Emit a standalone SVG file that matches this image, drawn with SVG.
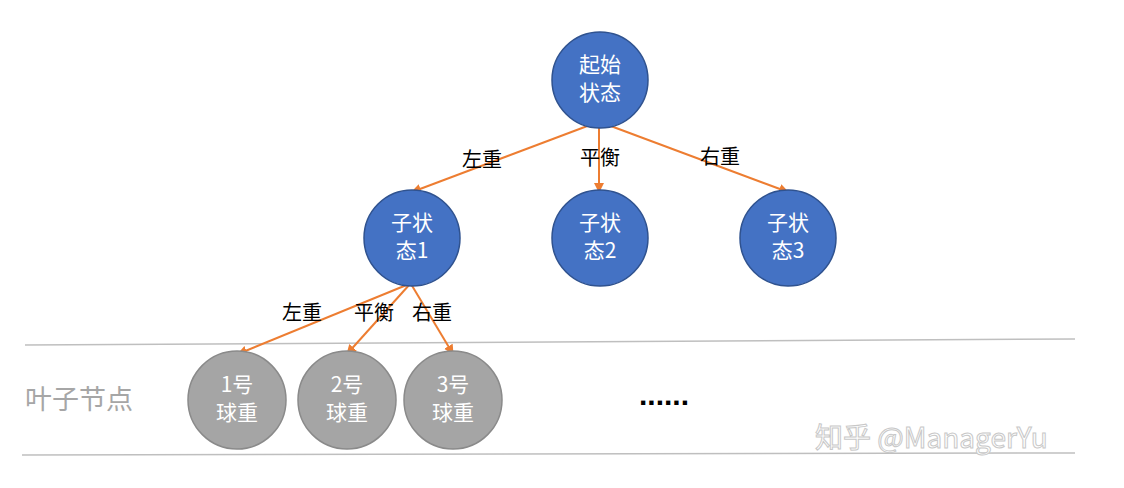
<svg xmlns="http://www.w3.org/2000/svg" width="1124" height="488" viewBox="0 0 1124 488">
<style>
.b{fill:#4472C4;stroke:#2F528F;stroke-width:1.5}
.g{fill:#A5A5A5;stroke:#8A8A8A;stroke-width:1.5}
.t{font-family:"Noto Sans CJK SC","Liberation Sans",sans-serif;font-size:21px;fill:#fff;text-anchor:middle}
.l{font-family:"Noto Sans CJK SC",sans-serif;font-size:20px;fill:#000;text-anchor:middle}
.c{stroke:#ED7D31;stroke-width:2;fill:none;marker-end:url(#a)}
</style>
<defs><marker id="a" viewBox="0 0 10 10" refX="9" refY="5" markerWidth="5" markerHeight="5" orient="auto"><path d="M0,0L10,5L0,10z" fill="#ED7D31"/></marker></defs>
<rect width="1124" height="488" fill="#fff"/>
<line x1="25" y1="345" x2="1075" y2="339" stroke="#BFBFBF" stroke-width="1.5"/>
<line x1="22" y1="455" x2="1075" y2="453" stroke="#BFBFBF" stroke-width="1.5"/>
<text x="25" y="409" font-family="Noto Sans CJK SC,sans-serif" font-size="27" fill="#A6A6A6">叶子节点</text>
<g id="connectors">
<line class="c" x1="598" y1="122" x2="412" y2="192"/>
<line class="c" x1="599" y1="122" x2="599" y2="192"/>
<line class="c" x1="600" y1="122" x2="788" y2="192"/>
<line class="c" x1="409" y1="284" x2="238" y2="354"/>
<line class="c" x1="410" y1="284" x2="347" y2="354"/>
<line class="c" x1="411" y1="284" x2="453" y2="354"/>
<text class="l" x="482" y="167">左重</text>
<text class="l" x="600" y="165">平衡</text>
<text class="l" x="720" y="164">右重</text>
<text class="l" x="302" y="320">左重</text>
<text class="l" x="374" y="320">平衡</text>
<text class="l" x="432" y="320">右重</text>
</g>
<g id="root"><circle class="b" cx="600" cy="80" r="48"/><text class="t" x="600" y="72">起始</text><text class="t" x="600" y="100">状态</text></g>
<g id="s1"><circle class="b" cx="412" cy="238" r="48"/><text class="t" x="412" y="230">子状</text><text class="t" x="412" y="258">态1</text></g>
<g id="s2"><circle class="b" cx="600" cy="238" r="48"/><text class="t" x="600" y="230">子状</text><text class="t" x="600" y="258">态2</text></g>
<g id="s3"><circle class="b" cx="788" cy="238" r="48"/><text class="t" x="788" y="230">子状</text><text class="t" x="788" y="258">态3</text></g>
<g id="l1"><circle class="g" cx="237" cy="400" r="49"/><text class="t" x="237" y="392">1号</text><text class="t" x="237" y="420">球重</text></g>
<g id="l2"><circle class="g" cx="347" cy="400" r="49"/><text class="t" x="347" y="392">2号</text><text class="t" x="347" y="420">球重</text></g>
<g id="l3"><circle class="g" cx="453" cy="400" r="49"/><text class="t" x="453" y="392">3号</text><text class="t" x="453" y="420">球重</text></g>
<text x="664" y="405" font-family="Liberation Sans,sans-serif" font-size="30" font-weight="bold" text-anchor="middle" fill="#000">......</text>
<text x="815" y="448" font-family="Noto Sans CJK SC,sans-serif" font-size="28" fill="#fff" stroke="#C8C8C8" stroke-width="1">知乎 @ManagerYu</text>
</svg>
